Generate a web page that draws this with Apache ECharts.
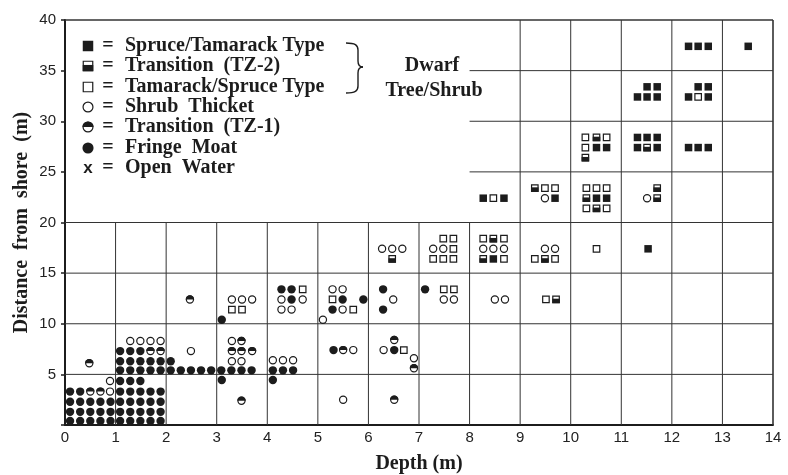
<!DOCTYPE html>
<html><head><meta charset="utf-8">
<script src="https://cdn.jsdelivr.net/npm/echarts@6.0.0/dist/echarts.min.js"></script>
<style>html,body{margin:0;padding:0;background:#fff}#c{width:788px;height:475px}</style>
</head><body><div id="c"></div>
<script>
// ---- tick labels ----
const xTickLabels = ['0','1','2','3','4','5','6','7','8','9','10','11','12','13','14'];
const yTickLabels = ['','5','10','15','20','25','30','35','40'];

// ---- sampling grid (data units) ----
const gridVerticalShort = [1,2,3,4,5,6,7,8];     // drawn from y=0 to 20
const gridVerticalTall = [9,10,11,12,13];         // drawn from y=0 to 40
const gridHorizontalFull = [5,10,15,20];          // x 0..14
const gridHorizontalRight = [25,30,35];           // x 8..14

// ---- vegetation records [depth (m), distance from shore (m)] ----
const spruceTamarack = [
 [8.47,16.4],[8.27,22.4],[8.68,22.4],[9.69,22.4],[10.51,22.4],[10.71,22.4],[11.53,17.4],
 [10.51,27.4],[10.71,27.4],[11.32,28.4],[11.51,28.4],[11.71,28.4],[11.32,27.4],[11.71,27.4],
 [12.33,27.4],[12.52,27.4],[12.72,27.4],[11.51,33.4],[11.71,33.4],[11.32,32.4],[11.51,32.4],[11.71,32.4],
 [12.52,33.4],[12.72,33.4],[12.33,32.4],[12.72,32.4],[12.33,37.4],[12.52,37.4],[12.72,37.4],[13.51,37.4]
];
const transitionTZ2 = [
 [9.71,12.4],[8.47,18.4],[8.27,16.4],[9.49,16.4],[9.29,23.4],[10.31,22.4],[10.51,21.4],
 [11.71,23.4],[11.71,22.4],[10.51,28.4],[10.29,26.4],[11.51,27.4],[6.47,16.4]
];
const tamarackSpruce = [
 [3.30,11.4],[3.50,11.4],[4.70,13.4],[5.29,12.4],[5.70,11.4],[6.70,7.4],[7.49,13.4],[7.69,13.4],[9.51,12.4],
 [7.48,18.4],[7.68,18.4],[7.68,17.4],[7.28,16.4],[7.48,16.4],[7.68,16.4],[8.27,18.4],[8.68,18.4],[8.68,16.4],
 [9.29,16.4],[9.69,16.4],[10.51,17.4],[8.47,22.4],[9.49,23.4],[9.69,23.4],[10.31,23.4],[10.51,23.4],[10.71,23.4],
 [10.31,21.4],[10.71,21.4],[10.29,28.4],[10.71,28.4],[10.29,27.4],[12.52,32.4]
];
const shrubThicket = [
 [3.30,12.4],[3.50,12.4],[3.70,12.4],[1.29,8.3],[1.49,8.3],[1.69,8.3],[1.89,8.3],[2.49,7.3],[0.89,4.35],[0.89,3.3],
 [3.30,8.3],[3.30,6.3],[3.49,6.3],[4.11,6.4],[4.31,6.4],[4.51,6.4],[4.28,12.4],[4.70,12.4],[4.28,11.4],[4.48,11.4],
 [5.29,13.4],[5.49,13.4],[5.49,11.4],[5.10,10.4],[6.49,12.4],[5.70,7.4],[5.50,2.5],[6.30,7.4],[6.90,6.6],
 [7.49,12.4],[7.69,12.4],[8.50,12.4],[8.70,12.4],[6.27,17.4],[6.47,17.4],[6.67,17.4],[7.28,17.4],[7.48,17.4],
 [8.27,17.4],[8.47,17.4],[8.68,17.4],[9.49,17.4],[9.69,17.4],[9.49,22.4],[11.51,22.4]
];
const transitionTZ1 = [
 [2.47,12.4],[0.48,6.1],[3.49,8.3],[3.30,7.3],[3.49,7.3],[3.70,7.3],[1.69,7.3],[1.89,7.3],[3.49,2.4],
 [5.50,7.4],[6.51,8.4],[6.90,5.6],[6.51,2.5],[0.50,3.3],[0.70,3.3]
];
const fringeMoat = [
 [0.10,0.4],[0.30,0.4],[0.50,0.4],[0.70,0.4],[0.90,0.4],
 [0.10,1.3],[0.30,1.3],[0.50,1.3],[0.70,1.3],[0.90,1.3],
 [0.10,2.3],[0.30,2.3],[0.50,2.3],[0.70,2.3],[0.90,2.3],
 [0.10,3.3],[0.30,3.3],
 [1.09,0.4],[1.29,0.4],[1.49,0.4],[1.69,0.4],[1.89,0.4],
 [1.09,1.3],[1.29,1.3],[1.49,1.3],[1.69,1.3],[1.89,1.3],
 [1.09,2.3],[1.29,2.3],[1.49,2.3],[1.69,2.3],[1.89,2.3],
 [1.09,3.3],[1.29,3.3],[1.49,3.3],[1.69,3.3],[1.89,3.3],
 [1.09,4.35],[1.29,4.35],[1.49,4.35],
 [1.09,5.4],[1.29,5.4],[1.49,5.4],[1.69,5.4],[1.89,5.4],[2.09,5.4],[2.29,5.4],[2.49,5.4],[2.69,5.4],
 [2.89,5.4],[3.09,5.4],[3.29,5.4],[3.49,5.4],[3.69,5.4],
 [1.09,6.3],[1.29,6.3],[1.49,6.3],[1.69,6.3],[1.89,6.3],[2.09,6.3],
 [1.09,7.3],[1.29,7.3],[1.49,7.3],
 [3.10,10.4],[3.10,4.45],[4.11,5.4],[4.31,5.4],[4.51,5.4],[4.11,4.45],[4.28,13.4],[4.48,13.4],[4.48,12.4],
 [5.49,12.4],[5.90,12.4],[5.29,11.4],[5.31,7.4],[6.29,13.4],[6.29,11.4],[6.51,7.4],[7.12,13.4]
];

const INK = '#1c1c1c';
function shapeFor(kind, cx, cy, sz) {
  const h = sz / 2, r = sz / 2 + 0.3;
  switch (kind) {
    case 'S': return {type:'rect', shape:{x:cx-h,y:cy-h,width:sz,height:sz}, style:{fill:INK}};
    case 'Q': return {type:'rect', shape:{x:cx-h+0.5,y:cy-h+0.5,width:sz-1,height:sz-1}, style:{fill:'#fff',stroke:INK,lineWidth:1.2}};
    case 'T2': return {type:'group', children:[
        {type:'rect', shape:{x:cx-h+0.5,y:cy-h+0.5,width:sz-1,height:sz-1}, style:{fill:'#fff',stroke:INK,lineWidth:1.2}},
        {type:'rect', shape:{x:cx-h,y:cy-h+sz*0.4,width:sz,height:sz*0.6}, style:{fill:INK}}]};
    case 'O': return {type:'circle', shape:{cx:cx,cy:cy,r:r-0.6}, style:{fill:'#fff',stroke:INK,lineWidth:1.2}};
    case 'T1': return {type:'group', children:[
        {type:'circle', shape:{cx:cx,cy:cy,r:r-0.6}, style:{fill:'#fff',stroke:INK,lineWidth:1.2}},
        {type:'sector', shape:{cx:cx,cy:cy,r0:0,r:r,startAngle:Math.PI,endAngle:2*Math.PI,clockwise:true}, style:{fill:INK}}]};
    case 'F': return {type:'circle', shape:{cx:cx,cy:cy,r:r}, style:{fill:INK}};
  }
}
function symbolSeries(name, kind, data) {
  return {
    type:'custom', name:name, data:data, encode:{x:0,y:1}, z:5,
    renderItem:function(params, api){
      const p = api.coord([api.value(0), api.value(1)]);
      return shapeFor(kind, p[0], p[1], kind==='S'||kind==='Q'||kind==='T2' ? 7.5 : 7.8);
    }
  };
}
const segs = [];
gridVerticalShort.forEach(v => segs.push([v,0,v,20,1]));
gridVerticalTall.forEach(v => segs.push([v,0,v,40,1]));
gridHorizontalFull.forEach(v => segs.push([0,v,14,v,1]));
gridHorizontalRight.forEach(v => segs.push([8,v,14,v,1]));
segs.push([0,40,14,40,1.6]);
segs.push([14,0,14,40,1.6]);

const serif = '"Liberation Serif","Times New Roman",serif';
const sans = '"Liberation Sans",Arial,sans-serif';

const legendRows = [
  {k:'S', t:'Spruce/Tamarack Type', y:46},
  {k:'T2', t:'Transition  (TZ-2)', y:66},
  {k:'Q', t:'Tamarack/Spruce Type', y:87},
  {k:'O', t:'Shrub  Thicket', y:107},
  {k:'T1', t:'Transition  (TZ-1)', y:127},
  {k:'F', t:'Fringe  Moat', y:148},
  {k:'X', t:'Open  Water', y:168}
];
const graphics = [];
legendRows.forEach(r => {
  if (r.k === 'X') {
    graphics.push({type:'text', x:88, y:r.y, style:{text:'x', font:'bold 17px '+sans, fill:INK, textAlign:'center', textVerticalAlign:'middle'}});
  } else {
    graphics.push(shapeFor(r.k, 88, r.y, 10.5));
  }
  graphics.push({type:'text', x:108, y:r.y, style:{text:'=', font:'bold 20px '+serif, fill:INK, textAlign:'center', textVerticalAlign:'middle'}});
  graphics.push({type:'text', x:125, y:r.y, style:{text:r.t, font:'bold 20px '+serif, fill:INK, textAlign:'left', textVerticalAlign:'middle'}});
});
const braceStyle = {fill:null, stroke:INK, lineWidth:1.4};
graphics.push({type:'bezierCurve', shape:{x1:346,y1:43,cpx1:355,cpy1:43,cpx2:358,cpy2:45,x2:358,y2:50}, style:braceStyle});
graphics.push({type:'line', shape:{x1:358,y1:50,x2:358,y2:61}, style:braceStyle});
graphics.push({type:'bezierCurve', shape:{x1:358,y1:61,cpx1:358,cpy1:65,cpx2:359,cpy2:67,x2:363,y2:67}, style:braceStyle});
graphics.push({type:'bezierCurve', shape:{x1:363,y1:67,cpx1:359,cpy1:67,cpx2:358,cpy2:69,x2:358,y2:73}, style:braceStyle});
graphics.push({type:'line', shape:{x1:358,y1:73,x2:358,y2:86}, style:braceStyle});
graphics.push({type:'bezierCurve', shape:{x1:358,y1:86,cpx1:358,cpy1:91,cpx2:355,cpy2:93,x2:346,y2:93}, style:braceStyle});
graphics.push({type:'text', x:432, y:66, style:{text:'Dwarf', font:'bold 20px '+serif, fill:INK, textAlign:'center', textVerticalAlign:'middle'}});
graphics.push({type:'text', x:434, y:91, style:{text:'Tree/Shrub', font:'bold 20px '+serif, fill:INK, textAlign:'center', textVerticalAlign:'middle'}});

const chart = echarts.init(document.getElementById('c'), null, {renderer:'canvas'});
chart.setOption({
  animation:false,
  backgroundColor:'#fff',
  grid:{left:65, right:15, top:20, bottom:50, containLabel:false, outerBoundsMode:'none'},
  xAxis:{type:'value', min:0, max:14, interval:1,
    name:'Depth (m)', nameLocation:'middle', nameGap:29, nameMoveOverlap:false,
    nameTextStyle:{fontFamily:serif, fontWeight:'bold', fontSize:20, color:INK},
    axisLine:{show:true, onZero:false, lineStyle:{color:INK, width:2}},
    axisTick:{show:false},
    splitLine:{show:false},
    axisLabel:{margin:5, fontFamily:sans, fontSize:15, color:'#222', formatter:(v)=>xTickLabels[Math.round(v)]}
  },
  yAxis:{type:'value', min:0, max:40, interval:5,
    name:'Distance  from  shore  (m)', nameLocation:'middle', nameGap:33, nameRotate:90, nameMoveOverlap:false,
    nameTextStyle:{fontFamily:serif, fontWeight:'bold', fontSize:20, color:INK},
    axisLine:{show:true, onZero:false, lineStyle:{color:INK, width:2}},
    axisTick:{show:true, length:4, lineStyle:{color:INK, width:1.5}},
    splitLine:{show:false},
    axisLabel:{margin:9, fontFamily:sans, fontSize:15, color:'#222', formatter:(v)=>yTickLabels[Math.round(v/5)]}
  },
  series:[
    {type:'custom', name:'grid', data:segs, z:2, silent:true,
      renderItem:function(params, api){
        const a = api.coord([api.value(0), api.value(1)]);
        const b = api.coord([api.value(2), api.value(3)]);
        return {type:'line', shape:{x1:a[0],y1:a[1],x2:b[0],y2:b[1]}, style:{stroke:'#333', lineWidth:api.value(4)}};
      }},
    symbolSeries('Spruce/Tamarack Type','S',spruceTamarack),
    symbolSeries('Transition (TZ-2)','T2',transitionTZ2),
    symbolSeries('Tamarack/Spruce Type','Q',tamarackSpruce),
    symbolSeries('Shrub Thicket','O',shrubThicket),
    symbolSeries('Transition (TZ-1)','T1',transitionTZ1),
    symbolSeries('Fringe Moat','F',fringeMoat)
  ],
  graphic:{elements:graphics}
});
</script></body></html>
